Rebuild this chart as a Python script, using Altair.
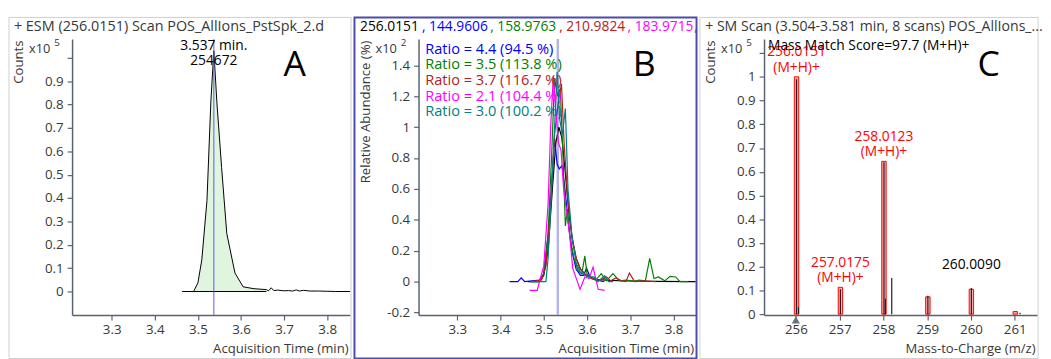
import altair as alt
import pandas as pd

FONT = "Open Sans"
AXIS_COLOR = "#5a6272"
TEXT_COLOR = "#383838"

# ---------------- Panel A : extracted ion chromatogram ----------------
a_time = [3.463, 3.49, 3.50, 3.509, 3.521, 3.530, 3.537, 3.544, 3.555, 3.567,
          3.586, 3.605, 3.63, 3.659, 3.664, 3.670, 3.676, 3.685, 3.70, 3.71,
          3.72, 3.728, 3.735, 3.745, 3.76, 3.78, 3.80, 3.82, 3.853]
a_counts = [0.0, 0.0, 0.037, 0.135, 0.389, 0.811, 1.03, 0.81, 0.53, 0.248,
            0.079, 0.02, 0.012, 0.008, 0.003, 0.016, 0.004, 0.006, 0.003, 0.004,
            0.002, 0.007, 0.002, 0.005, 0.002, 0.002, 0.001, 0.0, 0.0]
a_fill_range = [3.49, 3.659]
a_apex_time = 3.537
a_apex_text = ["3.537 min.", "254672"]
a_xticks = [3.3, 3.4, 3.5, 3.6, 3.7, 3.8]
a_yticks = [0, 0.1, 0.2, 0.3, 0.4, 0.5, 0.6, 0.7, 0.8, 0.9, 1.0]
a_title = "+ ESM (256.0151) Scan POS_AllIons_PstSpk_2.d"

# ---------------- Panel B : qualifier ion overlay ----------------
b_title_parts = ["256.0151", ", 144.9606", ", 158.9763", ", 210.9824", ", 183.9715", ","]
b_series = ["256.0151", "144.9606", "158.9763", "210.9824", "183.9715", "q5"]
b_colors = ["#000000", "#0000ff", "#008000", "#b22222", "#ff00ff", "#008080"]
b_ratio_labels = ["Ratio = 4.4 (94.5 %)", "Ratio = 3.5 (113.8 %)", "Ratio = 3.7 (116.7 %)",
                  "Ratio = 2.1 (104.4 %)", "Ratio = 3.0 (100.2 %)"]
b_t_256 = [3.463, 3.49, 3.50, 3.51, 3.52, 3.528, 3.535, 3.542, 3.55, 3.558, 3.566,
           3.575, 3.585, 3.60, 3.62, 3.65, 3.70, 3.75, 3.851]
b_y_256 = [0.0, 0.0, 0.04, 0.2, 0.6, 0.9, 1.0, 0.93, 0.7, 0.45, 0.27,
           0.15, 0.08, 0.035, 0.015, 0.008, 0.004, 0.002, 0.0]
b_t_144 = [3.421, 3.44, 3.448, 3.456, 3.49, 3.50, 3.51, 3.518, 3.525, 3.531, 3.536,
           3.542, 3.548, 3.556, 3.565, 3.575, 3.585, 3.592, 3.599, 3.607, 3.62, 3.64]
b_y_144 = [0.0, 0.0, 0.024, 0.0, 0.01, 0.05, 0.3, 0.6, 0.93, 0.76, 0.73,
           0.75, 0.63, 0.4, 0.2, 0.08, 0.04, 0.04, 0.087, 0.03, 0.01, 0.0]
b_t_158 = [3.47, 3.49, 3.50, 3.51, 3.518, 3.525, 3.532, 3.538, 3.544, 3.55, 3.555,
           3.56, 3.57, 3.58, 3.588, 3.595, 3.60, 3.61, 3.62, 3.633, 3.645, 3.66,
           3.675, 3.69, 3.71, 3.72, 3.735, 3.745, 3.755, 3.765, 3.78, 3.792, 3.805,
           3.815, 3.834]
b_y_158 = [0.0, 0.0, 0.05, 0.3, 0.8, 1.31, 1.2, 1.25, 0.85, 0.36, 0.47,
           0.3, 0.15, 0.07, 0.05, 0.166, 0.05, 0.02, 0.01, 0.051, 0.005, 0.051,
           0.005, 0.01, 0.002, 0.01, 0.005, 0.151, 0.02, 0.03, 0.005, 0.034, 0.03,
           0.0, 0.0]
b_t_210 = [3.47, 3.495, 3.505, 3.515, 3.525, 3.533, 3.541, 3.547, 3.555, 3.565,
           3.575, 3.585, 3.595, 3.61, 3.63, 3.645, 3.655, 3.667, 3.68, 3.69, 3.698,
           3.71, 3.73, 3.76]
b_y_210 = [0.0, 0.01, 0.1, 0.45, 0.95, 1.15, 1.28, 0.9, 0.55, 0.3,
           0.15, 0.08, 0.05, 0.02, 0.01, 0.03, 0.005, 0.024, 0.005, 0.0, 0.055,
           0.0, 0.005, 0.0]
b_t_183 = [3.467, 3.485, 3.49, 3.50, 3.51, 3.516, 3.522, 3.528, 3.534, 3.54, 3.546,
           3.553, 3.56, 3.567, 3.584, 3.595, 3.605, 3.614, 3.626, 3.641]
b_y_183 = [-0.057, -0.057, 0.0, 0.1, 0.5, 1.0, 1.33, 1.1, 0.9, 0.85, 0.6,
           0.45, 0.3, 0.087, -0.05, 0.03, 0.02, 0.094, -0.05, -0.057]
b_t_q5 = [3.47, 3.50, 3.505, 3.51, 3.52, 3.531, 3.537, 3.543, 3.55, 3.556, 3.565,
          3.575, 3.585, 3.595, 3.605, 3.616, 3.625, 3.641, 3.65, 3.66]
b_y_q5 = [0.0, 0.0, 0.0, 0.15, 0.7, 1.357, 1.05, 0.95, 1.12, 0.6, 0.3,
          0.12, 0.06, 0.04, 0.03, 0.03, 0.0, 0.038, 0.0, 0.0]
b_marker_time = 3.5325
b_xticks = [3.3, 3.4, 3.5, 3.6, 3.7, 3.8]
b_yticks = [-0.2, 0, 0.2, 0.4, 0.6, 0.8, 1.0, 1.2, 1.4]

# ---------------- Panel C : mass spectrum ----------------
c_title = "+ SM Scan (3.504-3.581 min, 8 scans) POS_AllIons_..."
c_theo_mz = [256.0151, 257.0175, 258.0123, 259.0150, 260.0090, 261.0110]
c_theo_int = [1.0, 0.113, 0.644, 0.073, 0.105, 0.011]
c_meas_mz = [256.0151, 256.06, 257.0175, 258.0123, 258.045, 258.19, 259.015, 260.009, 261.12]
c_meas_int = [0.99, 0.03, 0.105, 0.64, 0.065, 0.152, 0.078, 0.11, 0.006]
c_label_mz = [256.0151, 257.0175, 258.0123, 260.0090]
c_label_int = [1.0, 0.113, 0.644, 0.105]
c_label_line1 = ["256.0151", "257.0175", "258.0123", "260.0090"]
c_label_line2 = ["(M+H)+", "(M+H)+", "(M+H)+", ""]
c_label_color = ["#ff0000", "#ff0000", "#ff0000", "#000000"]
c_precursor = 256.0
c_score = "Mass Match Score=97.7 (M+H)+"
c_xticks = [256, 257, 258, 259, 260, 261]
c_yticks = [0, 0.1, 0.2, 0.3, 0.4, 0.5, 0.6, 0.7, 0.8, 0.9, 1.0, 1.1]

# ---------------- layout ----------------
H = 280
WA, WB, WC = 282, 281, 277
GAP = 69.5
FS = 14
FS_TICK = 13.5
FS_AXTITLE = 13.3
one = pd.DataFrame({"k": [0]})


def lbl_expr(hide_above):
    return (f"datum.value > {hide_above} ? '' : "
            "replace(format(datum.value, '~g'), '\u2212', '-')")


def x_axis(values, title, width):
    return alt.Axis(values=values, title=title, titleX=width - 2, titleY=38,
                    titleAlign="right", titleBaseline="alphabetic",
                    labelExpr="format(datum.value, '~g')", tickSize=5, labelPadding=3)


def y_axis(values, title, hide_above):
    return alt.Axis(values=values, title=title, titleX=-54, titleY=1, titleAngle=270,
                    titleAlign="right", titleBaseline="middle",
                    labelExpr=lbl_expr(hide_above), tickSize=5, labelPadding=4)


def frame(left, width, color, sw):
    return alt.Chart(one).mark_rect(fill="transparent", stroke=color, strokeWidth=sw).encode(
        x=alt.value(left), x2=alt.value(width + 1), y=alt.value(-22), y2=alt.value(H + 44))


def text_at(txt, x, y, color=TEXT_COLOR, size=FS, align="left"):
    return alt.Chart(one).mark_text(text=txt, font=FONT, fontSize=size, color=color,
                                    align=align, baseline="middle").encode(
        x=alt.value(x), y=alt.value(y))


def exponent(power):
    return [text_at("x10", -22, 10, size=13, align="right"),
            text_at(str(power), -18, 4, size=10)]


# ---------- Panel A ----------
dfa = pd.DataFrame({"t": a_time, "v": a_counts})
dfa_fill = dfa[(dfa.t >= a_fill_range[0]) & (dfa.t <= a_fill_range[1])]
dfa_base = pd.DataFrame({"t": a_fill_range, "v": [0, 0]})
dfa_apex = pd.DataFrame({"t": [a_apex_time]})

xa = alt.X("t:Q", scale=alt.Scale(domain=[3.208, 3.853], nice=False, zero=False),
           axis=x_axis(a_xticks, "Acquisition Time (min)", WA))
ya = alt.Y("v:Q", scale=alt.Scale(domain=[-0.101, 1.08], nice=False, zero=False),
           axis=y_axis(a_yticks, "Counts", 0.95))

a_layers = [
    frame(-64, WA, "#cfcfcf", 1),
    alt.Chart(dfa_fill).mark_area(color="#dff5df", opacity=1).encode(x=xa, y=ya),
    alt.Chart(dfa).mark_line(color="#000000", strokeWidth=1).encode(x=xa, y=ya),
    alt.Chart(dfa_base).mark_line(color="#000000", strokeWidth=1.2).encode(x=xa, y=ya),
    alt.Chart(dfa_apex).mark_rule(color="#5b5bd6", strokeWidth=1).encode(x=xa),
    alt.Chart(dfa_apex).mark_text(text=a_apex_text[0], font=FONT, fontSize=FS,
                                  color="#000000", baseline="middle").encode(x=xa, y=alt.value(7.5)),
    alt.Chart(dfa_apex).mark_text(text=a_apex_text[1], font=FONT, fontSize=FS,
                                  color="#000000", baseline="middle").encode(x=xa, y=alt.value(22.5)),
    text_at(a_title, -59, -12, size=14.6),
    text_at("A", 226, 26, color="#000000", size=36, align="center"),
] + exponent(5)
panel_a = alt.layer(*a_layers).properties(width=WA, height=H)

# ---------- Panel B ----------
b_t = [b_t_256, b_t_144, b_t_158, b_t_210, b_t_183, b_t_q5]
b_y = [b_y_256, b_y_144, b_y_158, b_y_210, b_y_183, b_y_q5]
rows = []
for name, ts, ys in zip(b_series, b_t, b_y):
    for i, (t, v) in enumerate(zip(ts, ys)):
        rows.append({"s": name, "t": t, "v": v, "i": i})
dfb = pd.DataFrame(rows)
dfb_mark = pd.DataFrame({"t": [b_marker_time]})

xb = alt.X("t:Q", scale=alt.Scale(domain=[3.2105, 3.851], nice=False, zero=False),
           axis=x_axis(b_xticks, "Acquisition Time (min)", WB))
yb = alt.Y("v:Q", scale=alt.Scale(domain=[-0.217, 1.57], nice=False, zero=False),
           axis=y_axis(b_yticks, "Relative Abundance (%)", 1.5))

b_layers = [
    frame(-65, WB, "#4b4bb0", 2),
    alt.Chart(dfb_mark).mark_rule(color="#b4b4e6", strokeWidth=2.5).encode(x=xb),
    alt.Chart(dfb).mark_line(strokeWidth=1.2).encode(
        x=xb, y=yb,
        color=alt.Color("s:N", scale=alt.Scale(domain=b_series, range=b_colors), legend=None),
        order=alt.Order("i:Q")),
    text_at("B", 229, 26, color="#000000", size=36, align="center"),
] + exponent(2)
b_title_x = [-59.3, 3.4, 72.7, 142.7, 212.0, 279.4]
b_title_colors = ["#000000"] + b_colors[1:]
for part, px, col in zip(b_title_parts, b_title_x, b_title_colors):
    b_layers.append(text_at(part, px, -12, color=col))
for k, (lab, col) in enumerate(zip(b_ratio_labels, b_colors[1:])):
    b_layers.append(text_at(lab, 6.7, 10.7 + 15.9 * k, color=col, size=14.8))
panel_b = alt.layer(*b_layers).properties(width=WB, height=H)

# ---------- Panel C ----------
dfc_theo = pd.DataFrame({"t": [m - 0.05 for m in c_theo_mz],
                         "hi": [m + 0.05 for m in c_theo_mz],
                         "v": c_theo_int, "b": [0.0] * len(c_theo_mz)})
dfc_meas = pd.DataFrame({"t": c_meas_mz, "v": c_meas_int, "b": [0.0] * len(c_meas_mz)})
dfc_lab = pd.DataFrame({"t": c_label_mz, "v": c_label_int, "l1": c_label_line1,
                        "l2": c_label_line2, "c": c_label_color})
dfc_prec = pd.DataFrame({"t": [c_precursor]})

xsc = alt.Scale(domain=[255.273, 261.51], nice=False, zero=False)
ysc = alt.Scale(domain=[-0.004, 1.159], nice=False, zero=False)
xc = alt.X("t:Q", scale=xsc, axis=x_axis(c_xticks, "Mass-to-Charge (m/z)", WC))
yc = alt.Y("v:Q", scale=ysc, axis=y_axis(c_yticks, "Counts", 1.05))

c_layers = [
    frame(-65, WC, "#cfcfcf", 1),
    alt.Chart(dfc_theo).mark_bar(fill="#f7a6a6", fillOpacity=0.9, stroke="#ff0000",
                                 strokeWidth=1).encode(x=xc, x2="hi:Q", y=yc, y2="b:Q"),
    alt.Chart(dfc_meas).mark_rule(color="#202020", strokeWidth=1.2).encode(
        x=xc, y=yc, y2="b:Q"),
    alt.Chart(dfc_lab).mark_text(font=FONT, fontSize=FS, dy=-25, baseline="middle").encode(
        x=xc, y=yc, text="l1:N", color=alt.Color("c:N", scale=None)),
    alt.Chart(dfc_lab).mark_text(font=FONT, fontSize=FS, dy=-9, baseline="middle").encode(
        x=xc, y=yc, text="l2:N", color=alt.Color("c:N", scale=None)),
    alt.Chart(dfc_prec).mark_point(shape="triangle-up", filled=True, color="#6b7080",
                                   size=70, opacity=1).encode(x=xc, y=alt.value(H + 5)),
    text_at(c_title, -59.7, -12, size=14.3),
    text_at(c_score, 4, 7, color="#000000"),
    text_at("C", 228, 26, color="#000000", size=36, align="center"),
] + exponent(5)
panel_c = alt.layer(*c_layers).properties(width=WC, height=H)

chart = alt.hconcat(panel_a, panel_b, panel_c, spacing=GAP, bounds="flush").properties(
    padding={"left": 0, "top": 6, "right": 0, "bottom": 0},
    background="white",
).configure_view(stroke=None).configure_axis(
    labelFont=FONT, titleFont=FONT, labelFontSize=FS_TICK, titleFontSize=FS_AXTITLE,
    labelColor=TEXT_COLOR, titleColor=TEXT_COLOR, titleFontWeight="normal",
    domainColor=AXIS_COLOR, tickColor=AXIS_COLOR, domainWidth=1.5, tickWidth=1.2,
    grid=False, labelFlush=False,
)

chart.save("out.html", embed_options={"renderer": "svg", "actions": False})
